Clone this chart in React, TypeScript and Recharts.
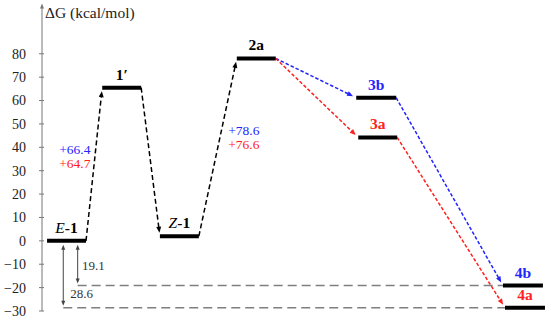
import { LineChart, Line, XAxis, YAxis, ReferenceLine, ReferenceDot } from "recharts"

// states of the energy profile (reaction coordinate runs 0..100 along the x axis)
const states = ["E-1", "1′", "Z-1", "2a", "3b", "3a", "4b", "4a"]
const energies = [0, 65.5, 2, 78, 61.2, 44.2, -19.1, -28.6]
const levelFrom = [1.0, 11.9, 23.3, 38.5, 62.1, 62.5, 91.1, 91.5]
const levelTo = [8.7, 19.6, 31.0, 46.2, 70.0, 70.2, 99.0, 99.4]
// "" = common path, "b" = blue path, "a" = red path
const pathway = ["", "", "", "", "b", "a", "b", "a"]
const steps: [number, number][] = [[0, 1], [1, 2], [2, 3], [3, 4], [3, 5], [4, 6], [5, 7]]

// barriers written next to the first and third steps
const barriersB = [66.4, 78.6]
const barriersA = [64.7, 76.6]
const barrierLabelX = [3.4, 36.8]
const barrierLabelG = [37.3, 45.1]

// gaps of 4b / 4a below E-1
const gapStates = [6, 7]
const gapArrowX = [7.05, 4.2]
const gapLabelX = [7.9, 5.6]
const gapLabelG = [-12.5, -24.5]

const yTicks = [-30, -20, -10, 0, 10, 20, 30, 40, 50, 60, 70, 80]

const BLUE = "#2424ff"
const RED = "#ff2020"
const AXIS = "#777"
const FONT = "'Liberation Serif', serif"

const pathColor = (p: string) => (p === "b" ? BLUE : p === "a" ? RED : "#000")

type ArrowOpts = {
  color: string
  dash?: string
  width?: number
  both?: boolean
  len?: number
  half?: number
  trimStart?: number
  trimEnd?: number
}

const arrow = (o: ArrowOpts) => (p: any) => {
  const len = o.len ?? 6
  const half = o.half ?? 2.5
  const dx = p.x2 - p.x1
  const dy = p.y2 - p.y1
  const L = Math.hypot(dx, dy) || 1
  const ux = dx / L
  const uy = dy / L
  const ts = o.trimStart ?? 0
  const te = o.trimEnd ?? 0
  const sx = p.x1 + ux * ts
  const sy = p.y1 + uy * ts
  const ex = p.x2 - ux * te
  const ey = p.y2 - uy * te
  const head = (tx: number, ty: number, vx: number, vy: number) => {
    const bx = tx - vx * len
    const by = ty - vy * len
    return `${tx},${ty} ${bx - vy * half},${by + vx * half} ${bx + vy * half},${by - vx * half}`
  }
  return (
    <g>
      <line
        x1={o.both ? sx + ux * len * 0.8 : sx}
        y1={o.both ? sy + uy * len * 0.8 : sy}
        x2={ex - ux * len * 0.8}
        y2={ey - uy * len * 0.8}
        stroke={o.color}
        strokeWidth={o.width ?? 1.5}
        strokeDasharray={o.dash}
      />
      <polygon points={head(ex, ey, ux, uy)} fill={o.color} />
      {o.both && <polygon points={head(sx, sy, -ux, -uy)} fill={o.color} />}
    </g>
  )
}

function stateName(name: string) {
  const m = name.match(/^([EZ])(-.*)$/)
  if (m) {
    return (
      <>
        <tspan fontStyle="italic">{m[1]}</tspan>
        <tspan fontWeight="bold">{m[2]}</tspan>
      </>
    )
  }
  return <tspan fontWeight="bold">{name}</tspan>
}

const YTick = ({ x, y, payload }: any) => (
  <g>
    <line x1={x + 13} x2={x + 18} y1={y} y2={y} stroke={AXIS} strokeWidth={1} />
    <text x={x} y={y} dy="0.35em" textAnchor="end" style={{ fontFamily: FONT, fontSize: 14 }} fill="#222">
      {String(payload.value).replace("-", "−")}
    </text>
  </g>
)

export default function App() {
  return (
    <div style={{ position: "absolute", left: 0, top: 0, width: 550, height: 319, background: "#fff", fontFamily: FONT }}>
      <LineChart width={550} height={319} margin={{ top: 7, right: 2, bottom: 8, left: 0 }} style={{ fontFamily: FONT }}>
        <XAxis type="number" dataKey="x" domain={[0, 100]} hide />
        <YAxis
          type="number"
          domain={[-30, 100]}
          ticks={yTicks}
          width={42}
          axisLine={false}
          tickLine={false}
          tickSize={0}
          tickMargin={16}
          tick={<YTick />}
          interval={0}
        />

        {/* y axis with arrow */}
        <ReferenceLine
          segment={[{ x: 0, y: -30 }, { x: 0, y: 101.5 }]}
          ifOverflow="visible"
          shape={arrow({ color: AXIS, width: 1, len: 5, half: 2 })}
        />
        <ReferenceDot
          x={0}
          y={100}
          ifOverflow="visible"
          shape={(p: any) => (
            <text x={p.cx + 3} y={p.cy + 11} style={{ fontFamily: FONT, fontSize: 15.5 }} fill="#222">
              ΔG (kcal/mol)
            </text>
          )}
        />

        {/* gap guide lines */}
        {gapStates.map((s, i) => (
          <ReferenceLine
            key={`gap-line-${s}`}
            segment={[{ x: gapArrowX[i], y: energies[s] }, { x: levelFrom[s], y: energies[s] }]}
            ifOverflow="visible"
            stroke="#7f7f7f"
            strokeWidth={1.5}
            strokeDasharray="9 5"
          />
        ))}
        {gapStates.map((s, i) => (
          <ReferenceLine
            key={`gap-arrow-${s}`}
            segment={[{ x: gapArrowX[i], y: energies[0] }, { x: gapArrowX[i], y: energies[s] }]}
            ifOverflow="visible"
            shape={arrow({ color: "#444", width: 1, both: true, len: 5, half: 2, trimStart: 4, trimEnd: 2 })}
          />
        ))}
        {gapStates.map((s, i) => (
          <ReferenceDot
            key={`gap-label-${s}`}
            x={gapLabelX[i]}
            y={gapLabelG[i]}
            ifOverflow="visible"
            shape={(p: any) => (
              <text x={p.cx} y={p.cy} style={{ fontFamily: FONT, fontSize: 13 }} fill="#333">
                {(energies[0] - energies[s]).toFixed(1)}
              </text>
            )}
          />
        ))}

        {/* reaction steps */}
        {steps.map(([a, b]) => {
          const color = pathColor(pathway[b])
          const black = pathway[b] === ""
          return (
            <ReferenceLine
              key={`step-${a}-${b}`}
              segment={[{ x: levelTo[a], y: energies[a] }, { x: levelFrom[b], y: energies[b] }]}
              ifOverflow="visible"
              shape={arrow({
                color,
                dash: black ? "5 3" : "3.5 2",
                width: 1.5,
                len: 6,
                half: 2.5,
                trimEnd: 3.5,
              })}
            />
          )
        })}

        {/* energy levels */}
        {states.map((s, i) => (
          <Line
            key={`level-${s}`}
            data={[{ x: levelFrom[i], g: energies[i] }, { x: levelTo[i], g: energies[i] }]}
            dataKey="g"
            type="linear"
            stroke="#000"
            strokeWidth={4}
            dot={false}
            activeDot={false}
            isAnimationActive={false}
          />
        ))}

        {/* level names */}
        {states.map((s, i) => (
          <ReferenceDot
            key={`name-${s}`}
            x={(levelFrom[i] + levelTo[i]) / 2}
            y={energies[i]}
            ifOverflow="visible"
            shape={(p: any) => (
              <text
                x={p.cx}
                y={p.cy - 8}
                textAnchor="middle"
                style={{ fontFamily: FONT, fontSize: 15.5 }}
                fill={pathColor(pathway[i])}
              >
                {stateName(s)}
              </text>
            )}
          />
        ))}

        {/* barrier values */}
        {barriersB.map((v, i) => (
          <ReferenceDot
            key={`barrier-${i}`}
            x={barrierLabelX[i]}
            y={barrierLabelG[i]}
            ifOverflow="visible"
            shape={(p: any) => (
              <g style={{ fontFamily: FONT, fontSize: 13.5 }}>
                <text x={p.cx} y={p.cy} fill={BLUE}>{`+${v.toFixed(1)}`}</text>
                <text x={p.cx} y={p.cy + 14} fill={RED}>{`+${barriersA[i].toFixed(1)}`}</text>
              </g>
            )}
          />
        ))}
      </LineChart>
    </div>
  )
}
